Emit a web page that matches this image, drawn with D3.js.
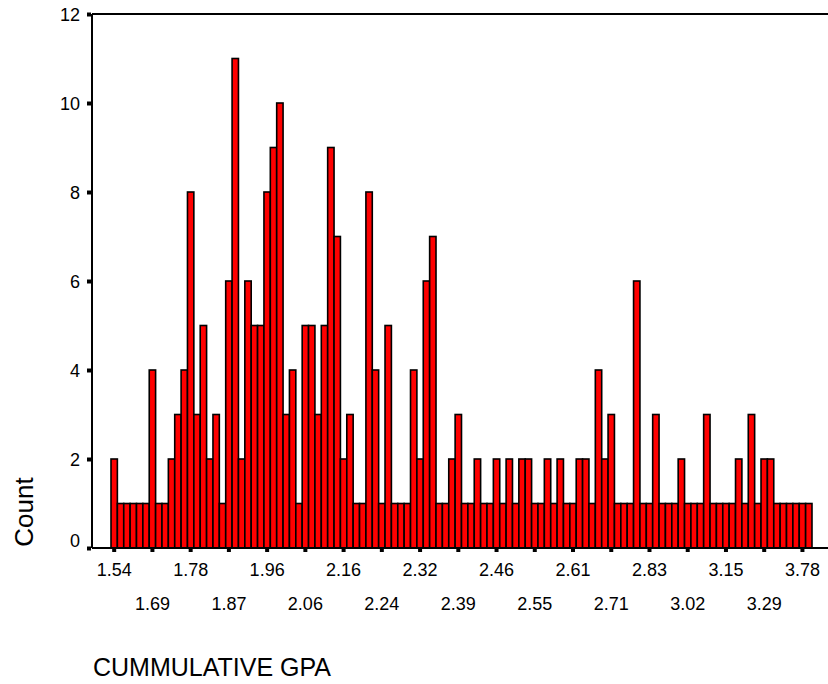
<!DOCTYPE html>
<html>
<head>
<meta charset="utf-8">
<script src="https://cdn.jsdelivr.net/npm/d3@7"></script>
<style>
  html, body { margin: 0; padding: 0; background: #fff; }
  svg { display: block; }
  text { font-family: Arial, "Liberation Sans", sans-serif; fill: #000; }
</style>
</head>
<body>
<svg id="chart" width="828" height="684"></svg>
<script>
// Histogram counts per GPA bin (left to right)
const counts = [
  2, 1, 1, 1, 1, 1, 4, 1, 1, 2, 3, 4, 8, 3, 5, 2, 3, 1, 6, 11,
  2, 6, 5, 5, 8, 9, 10, 3, 4, 1, 5, 5, 3, 5, 9, 7, 2, 3, 1, 1,
  8, 4, 1, 5, 1, 1, 1, 4, 2, 6, 7, 1, 1, 2, 3, 1, 1, 2, 1, 1,
  2, 1, 2, 1, 2, 2, 1, 1, 2, 1, 2, 1, 1, 2, 2, 1, 4, 2, 3, 1,
  1, 1, 6, 1, 1, 3, 1, 1, 1, 2, 1, 1, 1, 3, 1, 1, 1, 1, 2, 1,
  3, 1, 2, 2, 1, 1, 1, 1, 1, 1
];
// Bin categories (bin order)
const categories = counts.map((_, i) => i);
// Labelled bins (every sixth bin) and their GPA labels
const tickBins = [0, 6, 12, 18, 24, 30, 36, 42, 48, 54, 60, 66, 72, 78, 84, 90, 96, 102, 108];
const tickLabels = ["1.54","1.69","1.78","1.87","1.96","2.06","2.16","2.24","2.32","2.39",
                    "2.46","2.55","2.61","2.71","2.83","3.02","3.15","3.29","3.78"];
const yTicks = [0, 2, 4, 6, 8, 10, 12];
const xTitle = "CUMMULATIVE GPA";
const yTitle = "Count";

const svg = d3.select("#chart");
const axisX = 92, plotRight = 828, plotTop = 14, plotBottom = 548;

const x = d3.scaleBand().domain(categories).range([111, 812]).paddingInner(0).paddingOuter(0);
const y = d3.scaleLinear().domain([0, 12]).range([plotBottom, plotTop]);

// bars
svg.append("g").selectAll("rect").data(counts).join("rect")
  .attr("x", (d, i) => x(categories[i]))
  .attr("y", d => y(d))
  .attr("width", x.bandwidth())
  .attr("height", d => y(0) - y(d))
  .attr("fill", "#ff0000")
  .attr("stroke", "#000")
  .attr("stroke-width", 1.6);

// frame lines: top, left axis, bottom axis
svg.append("line").attr("x1", axisX).attr("x2", plotRight).attr("y1", y(12)).attr("y2", y(12))
  .attr("stroke", "#000").attr("stroke-width", 2);
svg.append("line").attr("x1", axisX).attr("x2", axisX).attr("y1", y(12)).attr("y2", y(0))
  .attr("stroke", "#000").attr("stroke-width", 2);
svg.append("line").attr("x1", axisX).attr("x2", plotRight).attr("y1", y(0)).attr("y2", y(0))
  .attr("stroke", "#000").attr("stroke-width", 2);

// y axis
const gy = svg.append("g").attr("transform", `translate(${axisX - 1},0)`)
  .call(d3.axisLeft(y).tickValues(yTicks).tickSize(4).tickPadding(7).tickFormat(d3.format("d")));
gy.select(".domain").remove();
gy.selectAll(".tick line").attr("stroke", "#000").attr("stroke-width", 4);
gy.selectAll(".tick text").attr("font-size", 18).attr("dy", "0.35em")
  .attr("font-family", "Arial, 'Liberation Sans', sans-serif")
  .attr("y", d => d === 0 ? -8 : 0);

// x axis
const labelOf = new Map(tickBins.map((b, i) => [b, tickLabels[i]]));
const gx = svg.append("g").attr("transform", `translate(0,${plotBottom + 1})`)
  .call(d3.axisBottom(x).tickValues(tickBins).tickSize(3).tickPadding(4).tickFormat(d => labelOf.get(d)));
gx.select(".domain").remove();
gx.selectAll(".tick line").attr("stroke", "#000").attr("stroke-width", 4);
gx.selectAll(".tick text").attr("font-size", 18).attr("dy", null)
  .attr("font-family", "Arial, 'Liberation Sans', sans-serif")
  .attr("y", (d, i) => (i % 2 === 0 ? 27 : 61));

// axis titles
svg.append("text").attr("x", 93).attr("y", 676).attr("font-size", 25).text(xTitle);
svg.append("text").attr("transform", "translate(33,512) rotate(-90)")
  .attr("text-anchor", "middle").attr("font-size", 26).text(yTitle);
</script>
</body>
</html>
